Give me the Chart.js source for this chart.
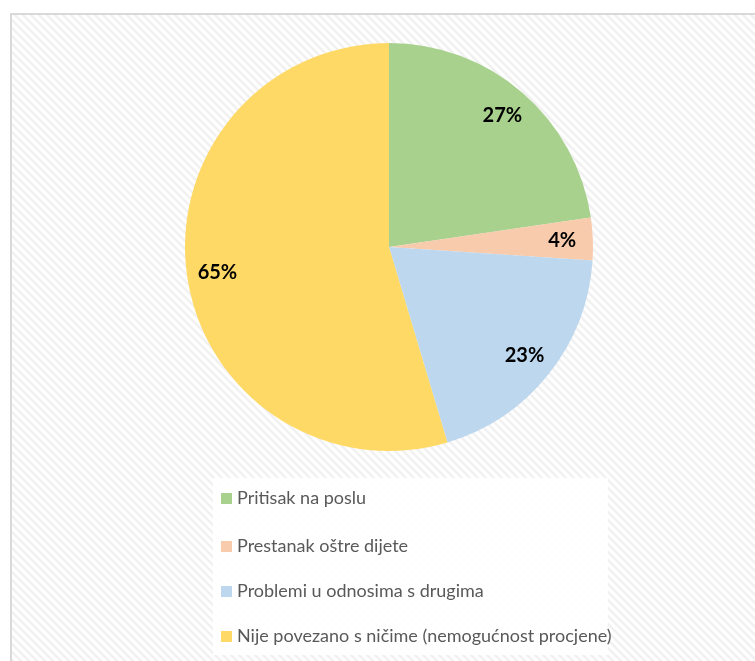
<!DOCTYPE html>
<html>
<head>
<meta charset="utf-8">
<script src="https://cdn.jsdelivr.net/npm/chart.js@4/dist/chart.umd.min.js"></script>
<style>
html,body{margin:0;padding:0;background:#fff;}
#wrap{width:755px;height:661px;}
</style>
</head>
<body>
<div id="wrap"><canvas id="c" width="755" height="661"></canvas></div>
<script>
const categories = ["Pritisak na poslu", "Prestanak oštre dijete", "Problemi u odnosima s drugima", "Nije povezano s ničime (nemogućnost procjene)"];
const values = [27, 4, 23, 65];
const valueLabels = ["27%", "4%", "23%", "65%"];
const colors = ["#A9D18E", "#F8CBAD", "#BDD7EE", "#FFD966"];

function makePattern(ctx) {
  const p = document.createElement('canvas');
  p.width = 8; p.height = 8;
  const pc = p.getContext('2d');
  pc.fillStyle = '#ffffff';
  pc.fillRect(0, 0, 8, 8);
  pc.strokeStyle = '#f1f1f1';
  pc.lineWidth = 2.5;
  pc.beginPath();
  pc.moveTo(-2, -2); pc.lineTo(10, 10);
  pc.moveTo(-10, -2); pc.lineTo(2, 10);
  pc.moveTo(6, -2); pc.lineTo(18, 10);
  pc.stroke();
  return ctx.createPattern(p, 'repeat');
}

const bgPlugin = {
  id: 'bg',
  beforeDraw(chart) {
    const ctx = chart.ctx;
    ctx.save();
    ctx.fillStyle = '#ffffff';
    ctx.fillRect(0, 0, chart.width, chart.height);
    ctx.fillStyle = makePattern(ctx);
    ctx.fillRect(11, 14, chart.width - 11, chart.height - 14);
    ctx.strokeStyle = '#d9d9d9';
    ctx.lineWidth = 2;
    ctx.beginPath();
    ctx.moveTo(11, chart.height);
    ctx.lineTo(11, 14);
    ctx.lineTo(chart.width, 14);
    ctx.stroke();
    ctx.restore();
  }
};

const labelPlugin = {
  id: 'sliceLabels',
  afterDatasetsDraw(chart) {
    const ctx = chart.ctx;
    const meta = chart.getDatasetMeta(0);
    ctx.save();
    ctx.font = 'bold 20px Lato, "Open Sans", sans-serif';
    ctx.fillStyle = '#000000';
    ctx.textAlign = 'center';
    ctx.textBaseline = 'middle';
    meta.data.forEach((arc, i) => {
      const p = arc.getProps(['x', 'y', 'startAngle', 'endAngle', 'outerRadius'], true);
      const mid = (p.startAngle + p.endAngle) / 2;
      const r = p.outerRadius * 0.85;
      ctx.fillText(valueLabels[i], p.x + Math.cos(mid) * r, p.y + Math.sin(mid) * r);
    });
    ctx.restore();
  }
};

const legendPlugin = {
  id: 'customLegend',
  afterDraw(chart) {
    const ctx = chart.ctx;
    ctx.save();
    ctx.fillStyle = 'rgba(255,255,255,0.9)';
    ctx.fillRect(213, 478, 395, 177);
    ctx.font = '18px Lato, "Open Sans", sans-serif';
    ctx.textBaseline = 'middle';
    ctx.textAlign = 'left';
    const rowY = [498, 546, 591, 636];
    categories.forEach((c, i) => {
      ctx.fillStyle = colors[i];
      ctx.fillRect(221, rowY[i] - 5, 11, 11);
      ctx.fillStyle = '#595959';
      ctx.fillText(c, 237, rowY[i]);
    });
    ctx.restore();
  }
};

new Chart(document.getElementById('c'), {
  type: 'pie',
  data: {
    labels: categories,
    datasets: [{
      data: values,
      backgroundColor: colors,
      borderWidth: 0
    }]
  },
  options: {
    responsive: false,
    animation: false,
    layout: { padding: { top: 43, bottom: 210, left: 185, right: 162 } },
    plugins: {
      legend: { display: false },
      tooltip: { enabled: false }
    }
  },
  plugins: [bgPlugin, labelPlugin, legendPlugin]
});
</script>
</body>
</html>
